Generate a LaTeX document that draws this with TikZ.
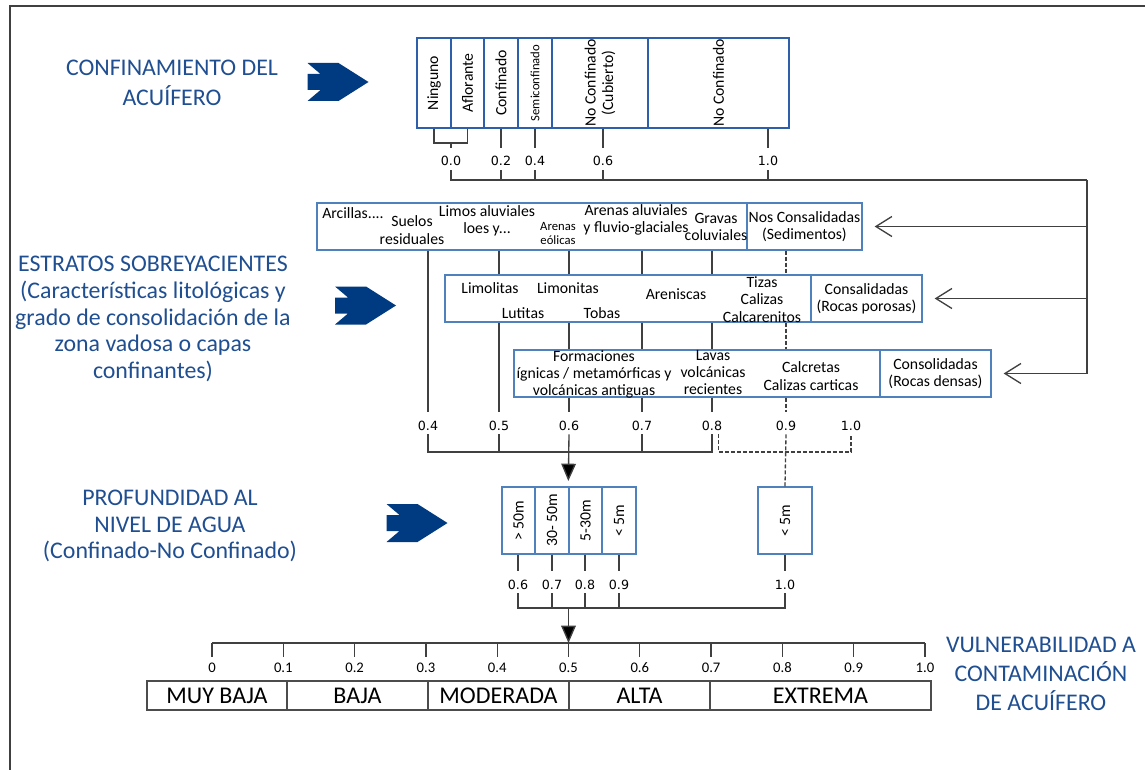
\documentclass[tikz,border=0pt]{standalone}
\usepackage{fontspec}
\setmainfont{Carlito}
\newfontfamily\numfont{DejaVu Sans}
\usetikzlibrary{arrows.meta, positioning, fit}

\definecolor{headblue}{RGB}{31,78,145}
\definecolor{navy}{RGB}{0,58,128}
\definecolor{boxblue}{RGB}{79,129,189}
\definecolor{cellblue}{RGB}{45,95,170}

\tikzset{
  box/.style={draw=boxblue, line width=1pt, fill=white, inner sep=0pt},
  cell/.style={draw=cellblue, line width=1pt, fill=white, inner sep=0pt},
  grade/.style={draw=black!70, line width=1pt, inner sep=0pt},
  txt/.style={align=center, inner sep=0pt, font=\fontsize{11.8}{13}\selectfont},
  smtxt/.style={align=center, inner sep=0pt, font=\fontsize{9.5}{10.5}\selectfont},
  vtxt/.style={txt, rotate=90},
  vsmtxt/.style={smtxt, rotate=90},
  num/.style={anchor=base, inner sep=0pt, text height=13pt, text depth=3pt, font=\numfont\fontsize{9.5}{11}\selectfont},
  glab/.style={inner sep=0pt, font=\fontsize{11}{12}\selectfont},
  gtxt/.style={inner sep=0pt, font=\fontsize{18}{20}\selectfont},
  head/.style={align=center, text=headblue, font=\fontsize{17.9}{20}\selectfont},
  conn/.style={draw=black!75, line width=1pt},
  dashconn/.style={conn, dash pattern=on 3pt off 1.5pt},
  barb/.style={conn, -{Straight Barb[length=12pt, width=15pt]}},
  tri/.style={conn, -{Triangle[length=13pt, width=11pt, fill=black]}},
  chev/.pic={\fill[navy] (-30,-19) -- (1,-19) -- (31,0) -- (1,19) -- (-30,19) -- (-17,8) -- (-30,8) -- (-30,-8) -- (-17,-8) -- cycle;}
}

\begin{document}
\begin{tikzpicture}[x=0.75pt, y=-0.75pt]
\useasboundingbox (0,0) rectangle (1145,770);
\draw[black!75, line width=1pt] (10,770) -- (10,6) -- (1145,6);

% titles on the left
\node[head, font=\fontsize{17.9}{22}\selectfont] (hConf) at (172,83) {CONFINAMIENTO DEL\\ACUÍFERO};
\node[head] (hEstr) at (153,319) {ESTRATOS SOBREYACIENTES\\(Características litológicas y\\grado de consolidación de la\\zona vadosa o capas\\confinantes)};
\node[head] (hProf) at (170,526) {PROFUNDIDAD AL\\NIVEL DE AGUA\\(Confinado-No Confinado)};
\node[head, font=\fontsize{17.9}{22}\selectfont] (hVuln) at (1041,674) {VULNERABILIDAD A\\CONTAMINACIÓN\\DE ACUÍFERO};

\pic at (337.5,82) {chev};
\pic at (365,305.5) {chev};
\pic at (416.5,523) {chev};

% confinamiento
\node[cell, fit={(417,38) (451,128)}] (c1) {};
\node[cell, fit={(451,38) (484,128)}] (c2) {};
\node[cell, fit={(484,38) (518,128)}] (c3) {};
\node[cell, fit={(518,38) (552,128)}] (c4) {};
\node[cell, fit={(552,38) (648,128)}] (c5) {};
\node[cell, fit={(648,38) (789,128)}] (c6) {};
\node[vtxt] (t1) at (c1.center) {Ninguno};
\node[vtxt] (t2) at (c2.center) {Aflorante};
\node[vtxt] (t3) at (c3.center) {Confinado};
\node[vsmtxt] (t4) at (c4.center) {Semiconfinado};
\node[vtxt] (t5) at (c5.center) {No Confinado\\(Cubierto)};
\node[vtxt] (t6) at (c6.center) {No Confinado};

\node[num] (k00) at (451,166) {0.0};
\node[num] (k02) at (501,166) {0.2};
\node[num] (k04) at (535,166) {0.4};
\node[num] (k06) at (603,166) {0.6};
\node[num] (k10) at (768,166) {1.0};
\coordinate (brk) at (451,143);
\coordinate (busA) at (1087,180);

% estratos
\node[box, fit={(317,203) (747,250)}] (sA) {};
\node[box, fit={(747,203) (862,250)}] (nA) {};
\node[box, fit={(445,275) (811,322)}] (sB) {};
\node[box, fit={(811,275) (922,322)}] (nB) {};
\node[box, fit={(514,350) (880,397)}] (sC) {};
\node[box, fit={(880,350) (991,397)}] (nC) {};

\node[txt, anchor=west] (a1) at (322,213) {Arcillas....};
\node[txt] (a2) at (412,230) {Suelos\\residuales};
\node[txt] (a3) at (487,221) {Limos aluviales\\loes y...};
\node[smtxt] (a4) at (558,233) {Arenas\\eólicas};
\node[txt] (a5) at (636,220) {Arenas aluviales\\y fluvio-glaciales};
\node[txt] (a6) at (716,227) {Gravas\\coluviales};
\node[txt] (a7) at (nA.center) {Nos Consalidadas\\(Sedimentos)};

\node[txt] (b1) at (490,288) {Limolitas};
\node[txt] (b2) at (568,288) {Limonitas};
\node[txt] (b3) at (523,313) {Lutitas};
\node[txt] (b4) at (602,313) {Tobas};
\node[txt] (b5) at (676,294) {Areniscas};
\node[txt] (b6) at (762,299.5) {Tizas\\Calizas\\Calcarenitos};
\node[txt] (b7) at (nB.center) {Consalidadas\\(Rocas porosas)};

\node[txt] (e1) at (594,374.5) {Formaciones\\ígnicas / metamórficas y\\volcánicas antiguas};
\node[txt] (e2) at (713,372.5) {Lavas\\volcánicas\\recientes};
\node[txt] (e3) at (811,376) {Calcretas\\Calizas carticas};
\node[txt] (e4) at (nC.center) {Consolidadas\\(Rocas densas)};

\node[num] (m04) at (428,430) {0.4};
\node[num] (m05) at (499,430) {0.5};
\node[num] (m06) at (569,430) {0.6};
\node[num] (m07) at (642,430) {0.7};
\node[num] (m08) at (712,430) {0.8};
\node[num] (m09) at (786,430) {0.9};
\node[num] (m10) at (851,430) {1.0};
\coordinate (busB) at (569,452);
\coordinate (busD) at (786,452);

% profundidad
\node[box, fit={(502,487) (535,554)}] (d1) {};
\node[box, fit={(535,487) (569,554)}] (d2) {};
\node[box, fit={(569,487) (602,554)}] (d3) {};
\node[box, fit={(602,487) (636,554)}] (d4) {};
\node[box, fit={(758,487) (812,554)}] (d5) {};
\node[vtxt] (r1) at (d1.center) {> 50m};
\node[vtxt] (r2) at (d2.center) {30- 50m};
\node[vtxt] (r3) at (d3.center) {5-30m};
\node[vtxt] (r4) at (d4.center) {< 5m};
\node[vtxt] (r5) at (d5.center) {< 5m};

\node[num] (p06) at (518,589) {0.6};
\node[num] (p07) at (552,589) {0.7};
\node[num] (p08) at (585,589) {0.8};
\node[num] (p09) at (619,589) {0.9};
\node[num] (p10) at (785,589) {1.0};
\coordinate (busC) at (570,608);

% vulnerabilidad
\draw[conn] (212,643) -- (925,643);
\foreach \i/\t in {0/0, 1/0.1, 2/0.2, 3/0.3, 4/0.4, 5/0.5, 6/0.6, 7/0.7, 8/0.8, 9/0.9, 10/1.0} {
  \coordinate (g\i) at (212+71.3*\i,643);
  \draw[conn] (g\i) -- ++(0,14);
  \node[glab] (l\i) at (212+71.3*\i,668) {\t};
}
\node[grade, fit={(147,681) (287,710)}] (v1) {};
\node[grade, fit={(287,681) (428,710)}] (v2) {};
\node[grade, fit={(428,681) (569,710)}] (v3) {};
\node[grade, fit={(569,681) (710,710)}] (v4) {};
\node[grade, fit={(710,681) (931,710)}] (v5) {};
\node[gtxt] (w1) at (v1.center) {MUY BAJA};
\node[gtxt] (w2) at (v2.center) {BAJA};
\node[gtxt] (w3) at (v3.center) {MODERADA};
\node[gtxt] (w4) at (v4.center) {ALTA};
\node[gtxt] (w5) at (v5.center) {EXTREMA};

% connectors, level 1
\draw[conn] (c1.south) |- (brk) -| (c2.south);
\draw[conn] (brk) -- (k00.north);
\foreach \k/\c in {k02/c3, k04/c4, k06/c5, k10/c6}
  \draw[conn] (\k.north |- \c.south) -- (\k.north);
\draw[conn] (k00.south) |- (busA);
\foreach \k in {k02, k04, k06, k10}
  \draw[conn] (\k.south) -- (\k.south |- busA);
\draw[conn] (busA) -- (busA |- nC.east);
\draw[barb] (busA |- nA.east) -- ([xshift=9pt]nA.east);
\draw[barb] (busA |- nB.east) -- ([xshift=9pt]nB.east);
\draw[barb] (busA |- nC.east) -- ([xshift=9pt]nC.east);

% connectors, level 2
\draw[conn] (m04.north |- sA.south) -- (m04.north);
\draw[conn] (m05.north |- sA.south) -- (m05.north |- sB.north);
\draw[conn] (m05.north |- sB.south) -- (m05.north);
\foreach \m in {m06, m07, m08} {
  \draw[conn] (\m.north |- sA.south) -- (\m.north |- sB.north);
  \draw[conn] (\m.north |- sB.south) -- (\m.north |- sC.north);
  \draw[conn] (\m.north |- sC.south) -- (\m.north);
}
\draw[dashconn] (m09.north |- nA.south) -- (m09.north |- sB.north);
\draw[dashconn] (m09.north |- sB.south) -- (m09.north |- sC.north);
\draw[dashconn] (m09.north |- sC.south) -- (m09.north);
\draw[conn] (m04.south) |- (busB) -| (m08.south);
\foreach \m in {m05, m07}
  \draw[conn] (\m.south) -- (\m.south |- busB);
\draw[tri] (m06.south) -- ([yshift=4pt]d3.north west);
\draw[dashconn] ([xshift=5pt]m08.south) |- (busD) -| (m10.south);
\draw[dashconn] (m09.south) -- (d5.north);

% connectors, level 3
\foreach \p/\d in {p06/d1, p07/d2, p08/d3, p09/d4, p10/d5}
  \draw[conn] (\p.north |- \d.south) -- (\p.north);
\draw[conn] (p06.south) |- (busC) -| (p10.south);
\foreach \p in {p07, p08, p09}
  \draw[conn] (\p.south) -- (\p.south |- busC);
\draw[tri] (busC -| g5) -- (g5);
\end{tikzpicture}
\end{document}
